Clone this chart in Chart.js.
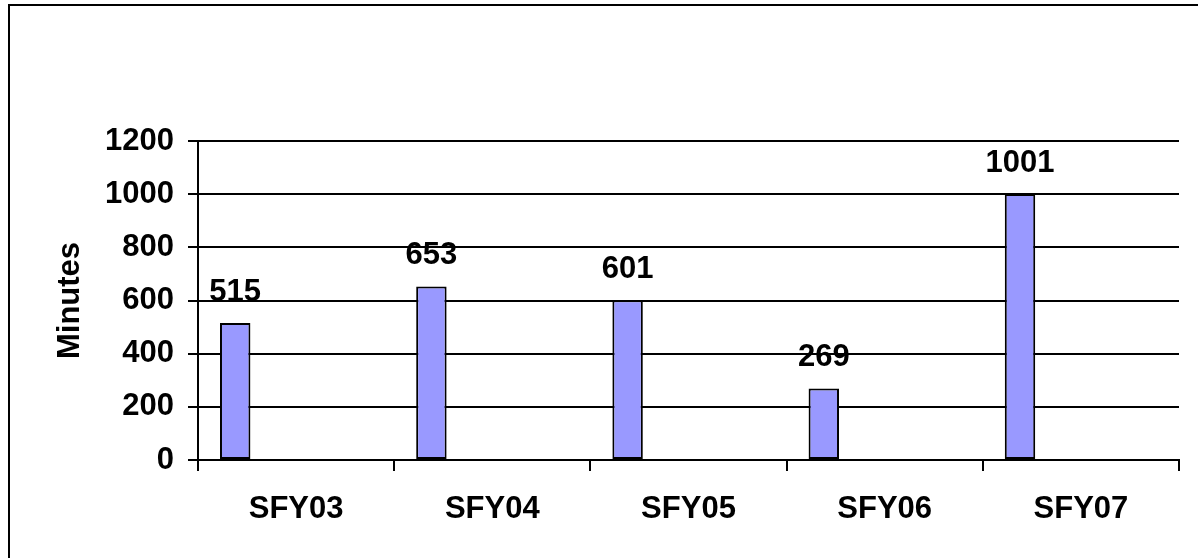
<!DOCTYPE html>
<html>
<head>
<meta charset="utf-8">
<script src="https://cdn.jsdelivr.net/npm/chart.js@4/dist/chart.umd.min.js"></script>
<style>
  html, body { margin: 0; padding: 0; background: #fff; }
  #wrap { width: 1198px; height: 558px; position: relative; }
</style>
</head>
<body>
<div id="wrap"><canvas id="chart"></canvas></div>
<script>
// Dados do gráfico
const categorias = ['SFY03', 'SFY04', 'SFY05', 'SFY06', 'SFY07'];
const minutos = [515, 653, 601, 269, 1001];
const yTicks = [0, 200, 400, 600, 800, 1000, 1200];
const tituloY = 'Minutes';

const FONTE = "'Liberation Sans', Arial, sans-serif";
Chart.defaults.color = '#000';
Chart.defaults.font.family = FONTE;

// Moldura da área do gráfico (só bordas esquerda e superior aparecem)
const moldura = {
    id: 'moldura',
    beforeDraw(chart) {
        const ctx = chart.ctx;
        ctx.save();
        ctx.strokeStyle = '#000';
        ctx.lineWidth = 2;
        ctx.strokeRect(9, 5, 2000, 2000);
        ctx.restore();
    }
};

// Valores acima das barras
const rotulos = {
    id: 'rotulos',
    afterDatasetsDraw(chart) {
        const ctx = chart.ctx;
        const meta = chart.getDatasetMeta(0);
        ctx.save();
        ctx.font = 'bold 31px ' + FONTE;
        ctx.fillStyle = '#000';
        ctx.textAlign = 'center';
        ctx.textBaseline = 'alphabetic';
        meta.data.forEach((bar, i) => {
            ctx.fillText(String(minutos[i]), bar.x, bar.y - 22);
        });
        ctx.restore();
    }
};

// O original tem 5 "vagas" de série por categoria; só a primeira tem dados
const vazias = [1, 2, 3, 4].map(() => ({ data: [], backgroundColor: '#9999FF' }));

new Chart(document.getElementById('chart'), {
    type: 'bar',
    data: {
        labels: categorias,
        datasets: [{
            data: minutos,
            backgroundColor: '#9999FF',
            borderColor: '#000',
            borderWidth: 2,
            borderSkipped: false
        }, ...vazias]
    },
    options: {
        responsive: true,
        maintainAspectRatio: false,
        animation: false,
        categoryPercentage: 0.776,
        barPercentage: 1,
        layout: { padding: { top: 141, right: 19, left: 0, bottom: 0 } },
        plugins: { legend: { display: false }, tooltip: { enabled: false } },
        scales: {
            x: {
                afterFit: s => { s.height = 98; },
                grid: {
                    offset: true,
                    drawOnChartArea: false,
                    drawTicks: true,
                    tickLength: 11,
                    color: '#000',
                    lineWidth: 2
                },
                border: { display: true, color: '#000', width: 2 },
                ticks: {
                    font: { size: 31, weight: 'bold', family: FONTE },
                    padding: 20,
                    maxRotation: 0
                }
            },
            y: {
                min: 0,
                max: 1200,
                afterFit: s => { s.width = 198; },
                afterBuildTicks: s => { s.ticks = yTicks.map(v => ({ value: v })); },
                grid: {
                    color: '#000',
                    lineWidth: 2,
                    drawTicks: true,
                    tickLength: 10
                },
                border: { display: true, color: '#000', width: 2 },
                ticks: {
                    font: { size: 31, weight: 'bold', family: FONTE },
                    padding: 14,
                    callback: v => String(v)   // sem separador de milhar
                },
                title: {
                    display: true,
                    text: tituloY,
                    font: { size: 31, weight: 'bold', family: FONTE, lineHeight: 1 },
                    padding: { top: 55, bottom: 0 }
                }
            }
        }
    },
    plugins: [moldura, rotulos]
});
</script>
</body>
</html>
